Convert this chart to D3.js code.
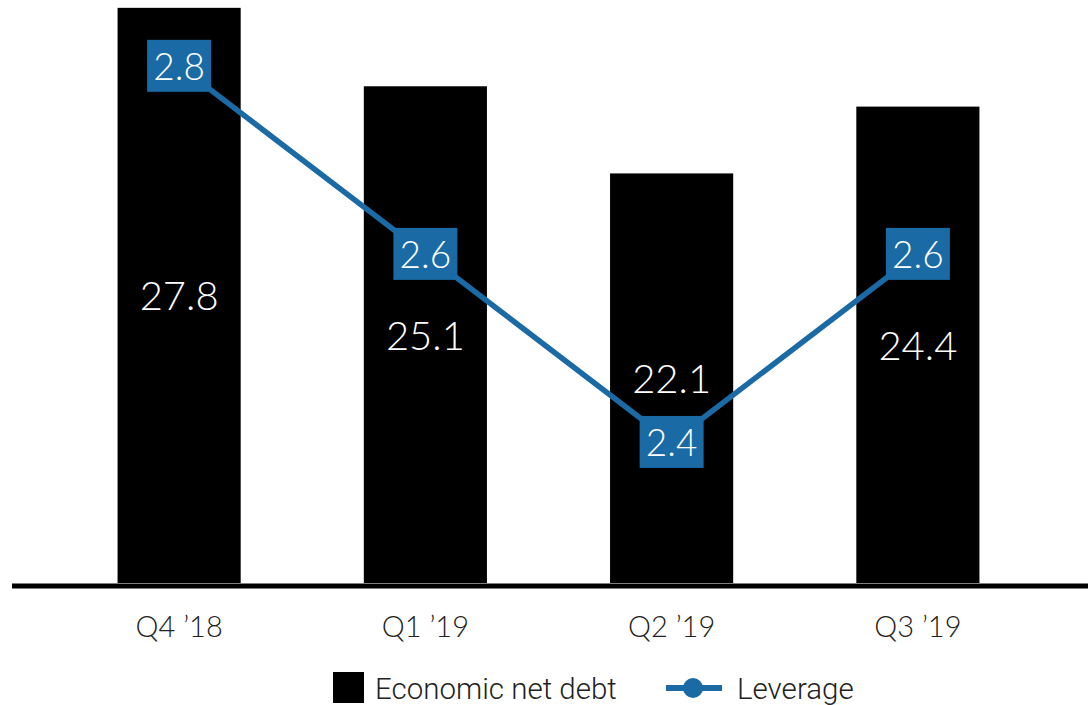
<!DOCTYPE html>
<html><head><meta charset="utf-8">
<script src="https://cdn.jsdelivr.net/npm/d3@7"></script>
<style>html,body{margin:0;padding:0;background:#fff;}svg{display:block;}</style>
</head><body>
<svg id="chart" width="1088" height="705"></svg>
<script>
const categories = ["Q4 \u201918", "Q1 \u201919", "Q2 \u201919", "Q3 \u201919"];
const netDebt = [27.8, 25.1, 22.1, 24.4];
const leverage = [2.8, 2.6, 2.4, 2.6];
const seriesNames = ["Economic net debt", "Leverage"];

const svg = d3.select("#chart");
const baseY = 583;
const blue = "#1a6aa6";
const labelFont = "Lato, 'Open Sans', sans-serif";

const x = d3.scaleBand().domain(categories).range([56, 1041]).paddingInner(0.5).paddingOuter(0.25);
const yBar = d3.scaleLinear().domain([8, 28.07]).range([baseY, 0]);
const yLine = d3.scaleLinear().domain([2.25, 2.87]).range([baseY, 0]);

const data = categories.map((c, i) => ({c, d: netDebt[i], l: leverage[i]}));

// bars
svg.append("g").selectAll("rect").data(data).join("rect")
  .attr("x", d => x(d.c)).attr("width", x.bandwidth())
  .attr("y", d => yBar(d.d)).attr("height", d => baseY - yBar(d.d))
  .attr("fill", "#000");

// bar labels
svg.append("g").selectAll("text").data(data).join("text")
  .attr("x", d => x(d.c) + x.bandwidth()/2)
  .attr("y", d => (yBar(d.d) + baseY)/2)
  .attr("text-anchor", "middle").attr("dominant-baseline", "central")
  .attr("fill", "#fff").style("font-family", labelFont).style("font-weight", 300)
  .style("font-size", "40px").text(d => d.d.toFixed(1));

// axis baseline
const xAxis = d3.axisBottom(x).tickSize(0).tickPadding(30);
const ax = svg.append("g").attr("transform", `translate(0,${baseY + 3})`).call(xAxis);
ax.select(".domain").remove();
ax.selectAll("text").style("font-family", labelFont).style("font-weight", 300)
  .style("font-size", "29px").attr("fill", "#222");
svg.append("line").attr("x1", 12).attr("x2", 1088).attr("y1", baseY + 3).attr("y2", baseY + 3)
  .attr("stroke", "#000").attr("stroke-width", 5);

// line
const line = d3.line().x(d => x(d.c) + x.bandwidth()/2).y(d => yLine(d.l));
svg.append("path").datum(data).attr("d", line).attr("fill", "none")
  .attr("stroke", blue).attr("stroke-width", 5.5);

const lbl = svg.append("g").selectAll("g").data(data).join("g")
  .attr("transform", d => `translate(${x(d.c) + x.bandwidth()/2},${yLine(d.l)})`);
lbl.append("rect").attr("x", -32).attr("y", -26).attr("width", 64).attr("height", 52).attr("fill", blue);
lbl.append("text").attr("text-anchor", "middle").attr("dominant-baseline", "central")
  .attr("fill", "#fff").style("font-family", labelFont).style("font-weight", 300)
  .style("font-size", "37px").text(d => d.l.toFixed(1));

// legend
const lg = svg.append("g");
lg.append("rect").attr("x", 333).attr("y", 672).attr("width", 31).attr("height", 31).attr("fill", "#000");
lg.append("text").attr("x", 375).attr("y", 699).text(seriesNames[0])
  .style("font-family", "Roboto, sans-serif").style("font-weight", 300).style("font-size", "29.5px").attr("fill", "#222");
lg.append("line").attr("x1", 666).attr("x2", 722).attr("y1", 688).attr("y2", 688).attr("stroke", blue).attr("stroke-width", 6);
lg.append("circle").attr("cx", 693).attr("cy", 688).attr("r", 10).attr("fill", blue);
lg.append("text").attr("x", 737).attr("y", 699).text(seriesNames[1])
  .style("font-family", "Roboto, sans-serif").style("font-weight", 300).style("font-size", "29.5px").attr("fill", "#222");
</script>
</body></html>
